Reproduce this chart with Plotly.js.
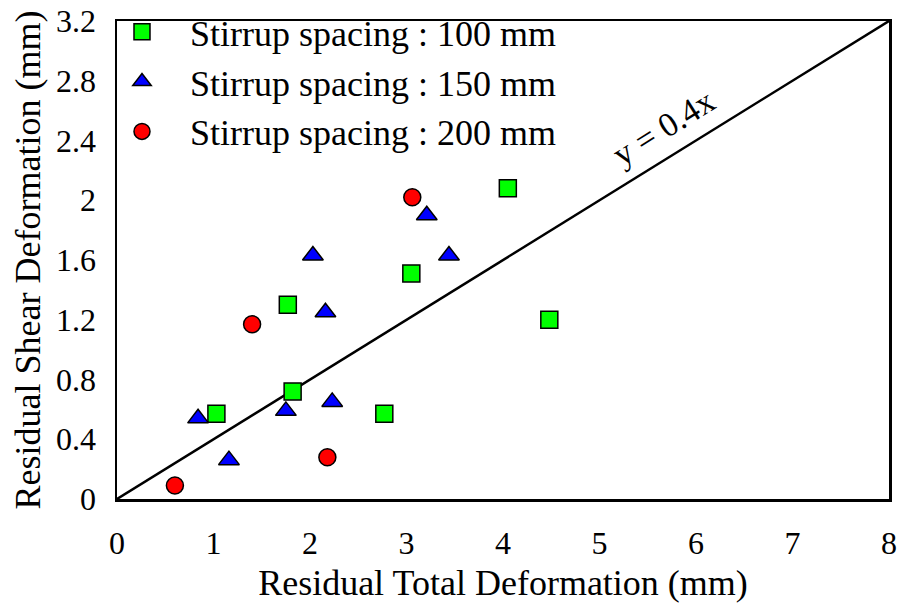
<!DOCTYPE html>
<html>
<head>
<meta charset="utf-8">
<script src="https://cdn.plot.ly/plotly-3.0.1.min.js"></script>
<style>html,body{margin:0;padding:0;background:#fff;}#chart{width:898px;height:607px;}</style>
</head>
<body>
<div id="chart"></div>
<script>
// Stirrup spacing 100 mm
const s100X = [1.03, 1.77, 1.82, 2.77, 3.05, 4.05, 4.48];
const s100Y = [0.57, 1.30, 0.72, 0.57, 1.51, 2.08, 1.20];
// Stirrup spacing 150 mm
const s150X = [0.84, 1.16, 1.75, 2.03, 2.16, 2.23, 3.21, 3.44];
const s150Y = [0.54, 0.26, 0.59, 1.63, 1.25, 0.65, 1.90, 1.63];
// Stirrup spacing 200 mm
const s200X = [0.60, 1.40, 2.18, 3.06];
const s200Y = [0.09, 1.17, 0.28, 2.02];
// Reference line y = 0.4x
const lineSlope = 0.4;
const lineX = [0, 8];
const lineY = lineX.map(v => v * lineSlope);

const names = ["Stirrup spacing : 100 mm", "Stirrup spacing : 150 mm", "Stirrup spacing : 200 mm"];
const xTicks = [0,1,2,3,4,5,6,7,8];
const yTicks = [0,0.4,0.8,1.2,1.6,2,2.4,2.8,3.2];

const font = "Liberation Serif, Times New Roman, serif";
const mline = {color: "#000", width: 1.5};

const traces = [
  {x: lineX, y: lineY, mode: "lines", line: {color: "#000", width: 2.5}, showlegend: false, hoverinfo: "skip"},
  {x: s100X, y: s100Y, name: names[0], mode: "markers", marker: {symbol: "square", size: 17, color: "#00ff00", line: mline}},
  {x: s150X, y: s150Y, name: names[1], mode: "markers", marker: {symbol: "triangle-up", size: 18, color: "#0000ff", line: mline}},
  {x: s200X, y: s200Y, name: names[2], mode: "markers", marker: {symbol: "circle", size: 17, color: "#ff0000", line: mline}}
];

const layout = {
  width: 898, height: 607,
  margin: {l: 117, r: 9, t: 21, b: 108, autoexpand: false},
  paper_bgcolor: "#fff", plot_bgcolor: "#fff",
  font: {family: font, color: "#000", size: 30},
  showlegend: true,
  legend: {x: -0.0298, y: 1.040, xanchor: "left", yanchor: "top", bgcolor: "rgba(0,0,0,0)",
           font: {family: font, size: 36, color: "#000"}, itemwidth: 86, tracegroupgap: 0},
  xaxis: {range: [0, 8], tickvals: xTicks, ticktext: xTicks.map(String), showgrid: false, zeroline: false,
          showline: true, mirror: true, linecolor: "#000", linewidth: 2.5, ticks: "",
          ticklabelstandoff: 14, tickfont: {family: font, size: 32}, automargin: false,
          title: {text: "Residual Total Deformation (mm)", font: {family: font, size: 36}, standoff: 10}},
  yaxis: {range: [0, 3.2], tickvals: yTicks, ticktext: yTicks.map(String), showgrid: false, zeroline: false,
          showline: true, mirror: true, linecolor: "#000", linewidth: 2.5, ticks: "",
          ticklabelstandoff: 12, tickfont: {family: font, size: 32}, automargin: false,
          title: {text: "Residual Shear Deformation (mm)", font: {family: font, size: 36}, standoff: 5}},
  annotations: [{x: 5.66, y: 2.49, xref: "x", yref: "y", text: "y = 0.4x", showarrow: false,
                 textangle: -32, font: {family: font, size: 34, color: "#000"}}]
};

Plotly.newPlot("chart", traces, layout, {displayModeBar: false, staticPlot: true});
</script>
</body>
</html>
